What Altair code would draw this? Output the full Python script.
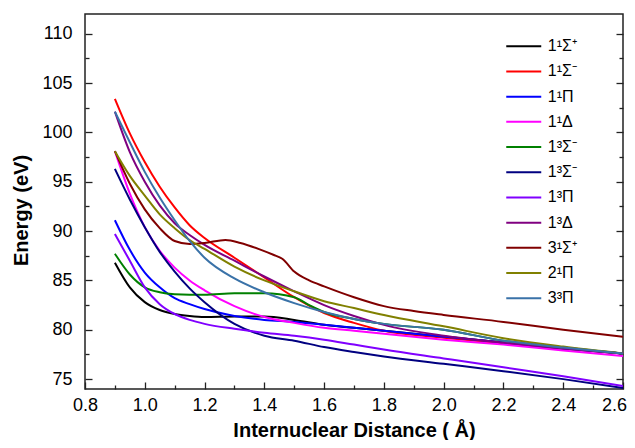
import altair as alt
import pandas as pd

# ---- data ----
series_names = ["1¹Σ⁺", "1¹Σ⁻", "1¹Π", "1¹Δ", "1³Σ⁻", "\u00a01³Σ⁻",
                "\u00a01³Π", "\u00a01³Δ", "\u00a03¹Σ⁺", "2¹Π", "\u00a03³Π"]
series_colors = ["#000000", "#ff0000", "#0000ff", "#ff00ff", "#008000", "#000080",
                 "#8000ff", "#800080", "#800000", "#808000", "#3a72a8"]

r_common = [0.9, 0.95, 1.0, 1.05, 1.1, 1.15, 1.2, 1.3, 1.4, 1.5, 1.6, 1.7, 1.8, 2.0, 2.2, 2.4, 2.6]
r_green = [0.9, 0.95, 1.0, 1.05, 1.1, 1.15, 1.2, 1.3, 1.4, 1.5, 1.55, 1.6, 1.7, 1.8, 2.0, 2.2, 2.4, 2.6]
r_3S = [0.9, 0.95, 1.0, 1.05, 1.1, 1.15, 1.2, 1.27, 1.32, 1.38, 1.43, 1.46, 1.5, 1.55, 1.6,
        1.7, 1.8, 1.9, 2.0, 2.2, 2.4, 2.6]

e_1S_plus = [86.8, 84.3, 82.8, 82.0, 81.6, 81.4, 81.3, 81.35, 81.35, 81.0, 80.5, 80.2, 79.9, 79.3, 78.7, 78.1, 77.6]
e_1S_minus = [103.4, 99.9, 97.0, 94.5, 92.4, 90.6, 89.3, 87.3, 85.3, 83.3, 81.7, 80.7, 79.9, 79.2, 78.6, 78.1, 77.6]
e_1Pi = [91.1, 88.1, 85.8, 84.3, 83.2, 82.6, 82.1, 81.4, 81.0, 80.8, 80.5, 80.2, 79.9, 79.3, 78.7, 78.1, 77.6]
e_1Delta = [98.1, 93.8, 90.4, 88.0, 86.3, 85.0, 84.0, 82.4, 81.3, 80.7, 80.2, 79.9, 79.6, 79.0, 78.5, 77.9, 77.35]
e_13S_minus_a = [87.7, 85.6, 84.3, 83.8, 83.6, 83.55, 83.55, 83.7, 83.7, 83.3, 82.5, 81.8, 81.1, 80.6, 80.0, 78.9, 78.2, 77.6]
e_13S_minus_b = [96.3, 93.2, 90.4, 87.9, 85.9, 84.2, 82.8, 80.6, 79.4, 78.9, 78.25, 77.75, 77.3, 76.55, 75.8, 75.0, 74.1]
e_13Pi = [89.7, 87.0, 84.3, 82.6, 81.6, 81.0, 80.6, 80.1, 79.7, 79.4, 79.0, 78.5, 78.0, 77.1, 76.2, 75.3, 74.3]
e_13Delta = [102.1, 98.0, 95.0, 92.6, 90.8, 89.6, 88.6, 87.0, 85.4, 83.9, 82.5, 81.4, 80.5, 79.4, 78.7, 78.1, 77.6]
e_31S_plus = [98.1, 94.8, 92.2, 90.3, 89.0, 88.7, 88.8, 89.1, 88.8, 88.2, 87.6, 87.2, 85.9, 85.0, 84.4,
              83.3, 82.4, 81.9, 81.5, 80.8, 80.0, 79.3]
e_21Pi = [98.1, 95.6, 93.6, 91.7, 90.3, 89.1, 88.2, 86.4, 85.0, 83.9, 82.9, 82.2, 81.5, 80.35, 79.15, 78.3, 77.6]
e_33Pi = [102.1, 99.0, 96.0, 93.4, 91.1, 89.0, 87.3, 85.2, 83.8, 82.7, 81.8, 81.1, 80.6, 80.0, 78.9, 78.2, 77.6]

x_major = [0.8, 1.0, 1.2, 1.4, 1.6, 1.8, 2.0, 2.2, 2.4, 2.6]
x_minor = [0.9, 1.1, 1.3, 1.5, 1.7, 1.9, 2.1, 2.3, 2.5]
y_major = [75, 80, 85, 90, 95, 100, 105, 110]
y_minor = [77.5, 82.5, 87.5, 92.5, 97.5, 102.5, 107.5]

series_x = [r_common, r_common, r_common, r_common, r_green, r_common,
            r_common, r_common, r_3S, r_common, r_common]
series_y = [e_1S_plus, e_1S_minus, e_1Pi, e_1Delta, e_13S_minus_a, e_13S_minus_b,
            e_13Pi, e_13Delta, e_31S_plus, e_21Pi, e_33Pi]

rows = []
for i, (name, xs_, ys_) in enumerate(zip(series_names, series_x, series_y)):
    for xv, yv in zip(xs_, ys_):
        rows.append({"state": name, "idx": i, "r": xv, "E": yv})
df = pd.DataFrame(rows)

FONT = "Liberation Sans"
xscale = alt.Scale(domain=[0.8, 2.6], nice=False, zero=False)
yscale = alt.Scale(domain=[74, 112], nice=False, zero=False)

base = alt.Chart(df)

lines = base.mark_line(strokeWidth=2, interpolate="monotone", clip=True).encode(
    x=alt.X("r:Q", scale=xscale,
            axis=alt.Axis(orient="bottom", values=x_major, format=".1f", ticks=False, tickSize=0,
                          domain=False, grid=False, labelPadding=7, labelFlush=False,
                          labelOverlap=False, labelFontSize=18, labelFont=FONT, labelColor="#000",
                          labelOffset={"condition": {"test": "datum.value >= 2.59", "value": -9},
                                       "value": 0},
                          title="Internuclear Distance ( Å)", titleFont=FONT, titleFontSize=20,
                          titleFontWeight="bold", titleColor="#000", titleY=47,
                          titleBaseline="alphabetic")),
    y=alt.Y("E:Q", scale=yscale,
            axis=alt.Axis(orient="left", values=y_major, ticks=False, tickSize=0, domain=False,
                          grid=False, labelPadding=13, labelFlush=False, labelOverlap=False,
                          labelFontSize=18, labelFont=FONT, labelColor="#000",
                          title="Energy (eV)", titleFont=FONT, titleFontSize=20,
                          titleFontWeight="bold", titleColor="#000", titleX=-64, titleY=196,
                          titleAngle=270, titleAlign="center", titleBaseline="middle")),
    color=alt.Color("state:N", sort=series_names,
                    scale=alt.Scale(domain=series_names, range=series_colors),
                    legend=alt.Legend(orient="none", legendX=428.75, legendY=22.25, title=None,
                                      symbolType="M-2,0H2", symbolSize=306, symbolStrokeWidth=2,
                                      labelFont=FONT, labelFontSize=16, labelColor="#000",
                                      labelOffset=14, rowPadding=7.2, padding=0,
                                      labelLimit=0)),
    detail="idx:N",
)


def tick_layer(xvals, yvals, size, xorient="bottom", yorient="left"):
    xaxis = None
    if xvals is not None:
        xaxis = alt.Axis(orient=xorient, values=xvals, labels=False, domain=False, grid=False,
                         ticks=True, tickSize=size, offset=-size, tickColor="#222",
                         tickWidth=1.3, title=None)
    yaxis = alt.Axis(orient=yorient, values=yvals, labels=False, domain=False, grid=False,
                     ticks=True, tickSize=size, offset=-size, tickColor="#222",
                     tickWidth=1.3, title=None)
    return base.mark_point(opacity=0, size=1).encode(
        x=alt.X("r:Q", scale=xscale, axis=xaxis),
        y=alt.Y("E:Q", scale=yscale, axis=yaxis),
    )


t1 = tick_layer(x_major, y_major, 7)
t2 = tick_layer(x_minor, y_minor, 4)
t3 = tick_layer(None, y_major, 7, yorient="right")
t4 = tick_layer(None, y_minor, 4, yorient="right")

chart = alt.layer(lines, t1, t2, t3, t4).resolve_axis(
    x="independent", y="independent"
).properties(
    width=538, height=375,
    autosize=alt.AutoSizeParams(type="none"),
    padding={"left": 77, "top": 6, "right": 4, "bottom": 51},
).configure_view(stroke="#222", strokeWidth=1.5)

chart.save("out.html", embed_options={"renderer": "svg", "actions": False})
